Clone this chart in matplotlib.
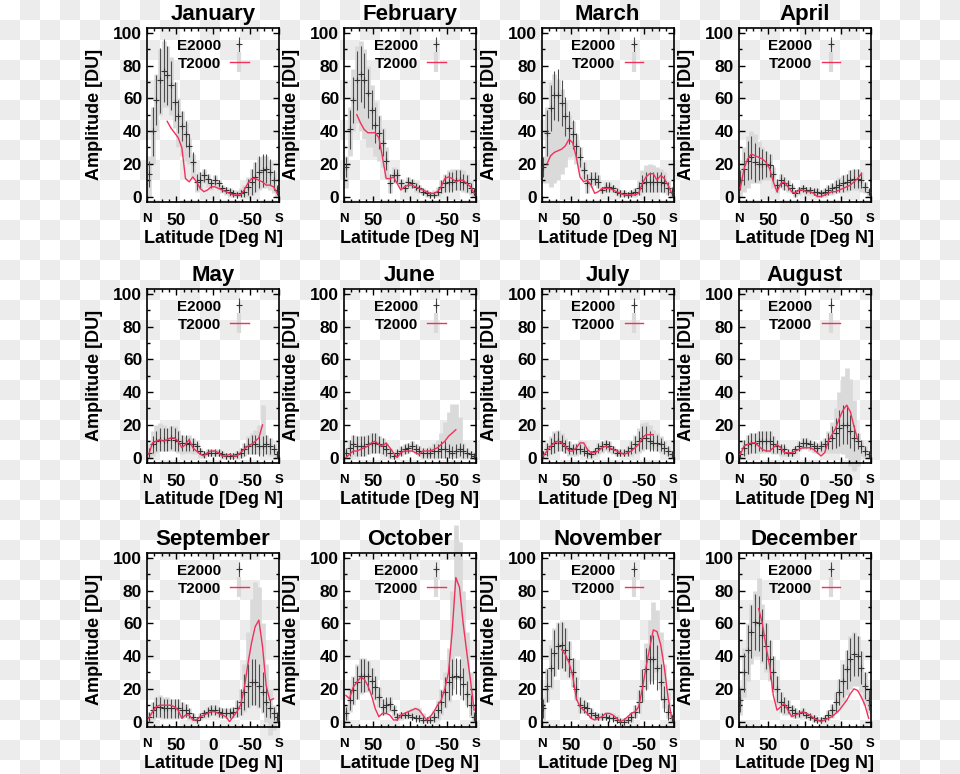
import numpy as np
import matplotlib
matplotlib.use("Agg")
import matplotlib.pyplot as plt
from matplotlib.ticker import MultipleLocator
from matplotlib.lines import Line2D

nan = np.nan

# latitude bins (deg N), north to south
lats = [87.5, 82.5, 77.5, 72.5, 67.5, 62.5, 57.5, 52.5, 47.5, 42.5, 37.5, 32.5,
        27.5, 22.5, 17.5, 12.5, 7.5, 2.5, -2.5, -7.5, -12.5, -17.5, -22.5, -27.5,
        -32.5, -37.5, -42.5, -47.5, -52.5, -57.5, -62.5, -67.5, -72.5, -77.5, -82.5, -87.5]

months = ["January", "February", "March", "April", "May", "June",
          "July", "August", "September", "October", "November", "December"]

# E2000 amplitude and error, T2000 line, T2000 grey spread (lo/hi)
jan_e = [14, 40, 59, 71, 77, 74, 68, 58, 49, 43, 38, 31, 21, 9, 10, 13, 11, 8, 10, 8, 5, 4, 3, 2, 1, 2, 3, 6, 9, 12, 15, 16, 17, 15, 10, 4]
jan_err = [8, 15, 15, 20, 19, 18, 15, 12, 10, 9, 8, 7, 6, 5, 5, 4, 3, 3, 3, 2, 2, 2, 2, 2, 2, 2, 3, 5, 8, 9, 10, 10, 9, 8, 6, 3]
jan_t = [nan, nan, nan, nan, nan, 46, 42, 39, 36, 30, 11, 9, 12, 9, 5, 3, 4, 6, 6, 5, 4, 3, 2, 1, 1, 1, 4, 8, 11, 11, 10, 9, 7, 7, 6, 2]
jan_hi = [25, 55, 75, 90, 95, 92, 85, 70, 60, 52, 45, 36, 26, 14, 15, 17, 14, 11, 13, 10, 7, 6, 5, 4, 4, 5, 7, 12, 17, 21, 24, 25, 25, 22, 15, 6]
jan_lo = [0, 20, 40, 50, 55, 55, 50, 42, 30, 25, 22, 20, 12, 3, 4, 8, 6, 4, 5, 4, 2, 1, 0, 0, 0, 0, 0, 0, 1, 3, 4, 5, 5, 4, 2, 0]

feb_e = [18, 41, 59, 71, 75, 71, 63, 53, 44, 39, 33, 22, 8, 13, 13, 8, 5, 9, 8, 6, 5, 3, 2, 1, 1, 3, 6, 8, 9, 9, 10, 10, 9, 8, 5, 3]
feb_err = [6, 12, 14, 18, 17, 17, 15, 12, 11, 10, 8, 6, 6, 4, 4, 3, 2, 3, 3, 2, 2, 2, 1, 2, 2, 2, 4, 5, 6, 6, 6, 6, 5, 5, 3, 2]
feb_t = [nan, nan, nan, 50, 45, 41, 39, 39, 39, 36, 24, 11, 11, 12, 8, 4, 6, 7, 7, 6, 5, 4, 3, 2, 2, 3, 6, 11, 12, 11, 9, 10, 10, 8, 6, 2]
feb_hi = [25, 55, 78, 92, 95, 90, 80, 68, 58, 50, 42, 30, 14, 18, 17, 11, 8, 12, 11, 9, 7, 5, 4, 3, 4, 6, 10, 14, 16, 17, 17, 17, 16, 14, 10, 5]
feb_lo = [5, 25, 40, 45, 40, 35, 30, 30, 25, 22, 18, 12, 2, 8, 8, 5, 3, 5, 5, 3, 2, 1, 0, 0, 0, 0, 2, 3, 4, 4, 4, 4, 3, 2, 1, 0]

mar_e = [18, 39, 54, 62, 62, 57, 49, 42, 38, 31, 24, 16, 8, 11, 11, 9, 4, 6, 6, 5, 3, 2, 2, 1, 2, 3, 5, 8, 9, 9, 9, 9, 9, 8, 5, 3]
mar_err = [6, 14, 14, 15, 16, 14, 12, 10, 9, 8, 6, 5, 6, 4, 4, 4, 2, 3, 3, 2, 2, 2, 2, 2, 2, 2, 4, 5, 6, 6, 6, 6, 6, 5, 4, 3]
mar_t = [nan, 20, 25, 27, 28, 29, 31, 35, 33, 24, 12, 9, 10, 7, 2, 3, 5, 5, 5, 4, 3, 2, 1, 1, 1, 1, 2, 8, 12, 14, 14, 10, 13, 11, 7, 2]
mar_hi = [25, 55, 70, 75, 72, 66, 58, 50, 46, 38, 30, 21, 14, 15, 15, 13, 6, 9, 9, 7, 5, 4, 4, 3, 4, 5, 10, 16, 19, 20, 19, 18, 17, 15, 10, 6]
mar_lo = [8, 8, 6, 8, 10, 14, 18, 24, 25, 20, 15, 10, 2, 6, 7, 5, 2, 3, 3, 3, 1, 0, 0, 0, 0, 0, 1, 2, 3, 3, 3, 3, 3, 2, 1, 0]

apr_e = [10, 17, 22, 24, 21, 20, 20, 20, 19, 14, 7, 10, 8, 7, 5, 2, 4, 5, 4, 4, 3, 3, 2, 3, 4, 5, 6, 7, 8, 9, 10, 11, 11, 10, 6, 3]
apr_err = [6, 10, 12, 13, 12, 10, 9, 8, 7, 5, 4, 4, 4, 3, 3, 2, 2, 2, 2, 2, 2, 2, 2, 2, 3, 3, 4, 4, 5, 5, 6, 6, 6, 5, 3, 2]
apr_t = [5, 17, 23, 26, 25, 24, 23, 21, 17, 9, 3, 8, 9, 6, 3, 2, 4, 4, 3, 3, 2, 0, 0, 1, 2, 3, 3, 4, 5, 6, 7, 9, 11, 14, nan, nan]
apr_hi = [18, 30, 37, 40, 38, 34, 30, 28, 26, 18, 11, 14, 12, 10, 7, 4, 6, 7, 6, 6, 5, 5, 4, 5, 7, 8, 10, 12, 13, 14, 16, 17, 17, 15, 9, 5]
apr_lo = [0, 3, 5, 8, 8, 8, 10, 10, 10, 5, 2, 5, 4, 3, 2, 0, 1, 2, 1, 1, 1, 0, 0, 0, 1, 1, 2, 2, 3, 3, 4, 4, 4, 3, 2, 0]

may_e = [3, 8, 10, 11, 11, 11, 12, 11, 10, 9, 9, 8, 8, 7, 4, 2, 3, 3, 3, 3, 2, 1, 1, 1, 2, 3, 5, 7, 8, 8, 7, 7, 8, 7, 5, 2]
may_err = [3, 5, 6, 7, 7, 7, 7, 7, 6, 5, 5, 4, 4, 3, 2, 2, 2, 2, 2, 2, 2, 2, 2, 2, 2, 3, 4, 5, 6, 6, 6, 6, 6, 5, 3, 2]
may_t = [2, 9, 10, 11, 10, 11, 12, 12, 10, 6, 8, 11, 6, 4, 2, 1, 3, 4, 4, 3, 1, 1, 2, 1, 1, 3, 5, 7, 8, 10, 12, 20, nan, nan, nan, nan]
may_hi = [8, 16, 20, 21, 20, 18, 19, 19, 17, 14, 13, 14, 12, 9, 6, 4, 5, 5, 5, 5, 4, 3, 3, 3, 4, 6, 9, 13, 15, 17, 20, 32, 14, 12, 8, 4]
may_lo = [0, 1, 3, 4, 4, 4, 4, 4, 3, 2, 3, 3, 2, 2, 0, 0, 1, 1, 1, 1, 0, 0, 0, 0, 0, 0, 1, 2, 2, 2, 2, 5, 2, 1, 1, 0]

jun_e = [3, 6, 8, 7, 7, 7, 8, 9, 9, 8, 7, 5, 3, 1, 3, 4, 5, 6, 7, 5, 4, 3, 3, 3, 4, 4, 5, 5, 4, 3, 4, 5, 4, 3, 2, 1]
jun_err = [3, 5, 6, 6, 6, 6, 6, 6, 6, 5, 5, 4, 3, 2, 2, 3, 3, 3, 3, 3, 3, 3, 3, 3, 4, 4, 5, 5, 4, 4, 4, 4, 4, 3, 2, 1]
jun_t = [0, 2, 4, 4, 5, 6, 7, 9, 10, 8, 7, 9, 6, 3, 0, 3, 4, 4, 4, 3, 2, 4, 4, 4, 5, 6, 8, 10, 13, 15, 17, nan, nan, nan, nan, nan]
jun_hi = [6, 11, 14, 13, 13, 13, 14, 15, 15, 13, 12, 9, 6, 3, 5, 7, 8, 9, 10, 8, 7, 6, 6, 7, 9, 11, 15, 22, 28, 33, 33, 25, 9, 6, 4, 2]
jun_lo = [0, 0, 1, 1, 1, 1, 2, 3, 3, 3, 2, 1, 0, 0, 1, 1, 2, 3, 4, 2, 1, 0, 0, 0, 0, 0, 0, 0, 0, 0, 0, 0, 0, 0, 0, 0]

jul_e = [2, 5, 7, 9, 10, 9, 7, 6, 5, 5, 5, 4, 3, 2, 4, 6, 7, 8, 7, 5, 3, 3, 3, 4, 6, 8, 10, 12, 12, 10, 9, 9, 8, 6, 4, 2]
jul_err = [2, 4, 5, 6, 6, 5, 4, 4, 3, 3, 3, 3, 3, 2, 2, 3, 3, 3, 3, 2, 2, 2, 2, 3, 4, 5, 6, 7, 7, 6, 5, 5, 4, 4, 3, 2]
jul_t = [1, 4, 7, 9, 10, 9, 7, 4, 4, 6, 9, 9, 5, 3, 3, 4, 6, 7, 6, 5, 4, 3, 2, 3, 4, 6, 8, 12, 14, 14, 14, nan, nan, nan, nan, nan]
jul_hi = [4, 9, 13, 16, 17, 15, 12, 10, 8, 9, 11, 10, 7, 4, 6, 9, 10, 11, 10, 7, 5, 5, 5, 7, 10, 14, 18, 21, 22, 20, 17, 15, 13, 10, 7, 4]
jul_lo = [0, 1, 2, 3, 4, 4, 3, 1, 1, 1, 2, 2, 1, 0, 1, 2, 3, 4, 3, 2, 1, 1, 1, 1, 1, 2, 3, 4, 5, 5, 5, 4, 3, 2, 1, 0]

aug_e = [2, 6, 8, 9, 9, 10, 10, 10, 10, 8, 7, 5, 5, 3, 3, 5, 7, 9, 9, 8, 7, 6, 7, 8, 10, 12, 15, 18, 20, 20, 16, 12, 10, 7, 4, 2]
aug_err = [2, 5, 6, 6, 6, 6, 6, 6, 6, 5, 4, 3, 3, 2, 2, 2, 3, 3, 3, 3, 3, 3, 3, 4, 5, 7, 9, 11, 12, 12, 10, 8, 5, 4, 3, 2]
aug_t = [2, 7, 8, 9, 9, 7, 5, 4, 4, 6, 8, 6, 3, 3, 3, 4, 5, 6, 6, 6, 5, 3, 1, 3, 10, 14, 18, 24, 29, 32, 28, 19, 11, nan, nan, nan]
aug_hi = [4, 11, 14, 15, 15, 16, 16, 16, 16, 13, 11, 8, 7, 5, 5, 7, 10, 12, 12, 11, 10, 9, 10, 12, 16, 22, 30, 40, 50, 55, 48, 35, 15, 11, 7, 4]
aug_lo = [0, 1, 2, 3, 3, 3, 3, 3, 3, 2, 2, 1, 1, 1, 1, 2, 4, 5, 5, 4, 3, 3, 3, 3, 3, 3, 3, 3, 2, 0, -5, -8, -5, 1, 0, 0]

sep_e = [3, 7, 9, 9, 8, 8, 8, 8, 8, 7, 7, 5, 3, 1, 3, 5, 6, 7, 7, 6, 5, 5, 5, 6, 8, 12, 18, 22, 24, 24, 22, 18, 12, 8, 5, 3]
sep_err = [3, 5, 6, 6, 6, 6, 6, 6, 6, 5, 4, 3, 2, 2, 2, 2, 3, 3, 3, 3, 3, 3, 3, 3, 5, 8, 11, 13, 14, 14, 13, 12, 9, 6, 4, 3]
sep_t = [2, 6, 9, 10, 10, 10, 10, 9, 7, 2, 4, 4, 1, 1, 3, 4, 5, 6, 6, 5, 4, 3, 0, 3, 6, 10, 20, 35, 48, 58, 62, 46, 22, 13, 14, nan]
sep_hi = [6, 12, 15, 16, 15, 15, 14, 14, 14, 12, 11, 8, 5, 3, 5, 7, 9, 10, 10, 9, 8, 8, 8, 9, 13, 20, 35, 55, 75, 85, 82, 60, 35, 20, 10, 5]
sep_lo = [0, 1, 2, 2, 2, 2, 2, 2, 2, 2, 2, 1, 0, 0, 1, 2, 3, 4, 4, 3, 2, 2, 2, 2, 3, 4, 6, 8, 10, 10, 8, 5, 0, -8, -5, 0]

oct_e = [5, 13, 19, 24, 28, 28, 28, 25, 21, 15, 9, 10, 11, 7, 3, 4, 4, 4, 3, 2, 2, 1, 1, 1, 3, 7, 12, 18, 24, 27, 28, 27, 23, 17, 10, 3]
oct_err = [4, 6, 8, 10, 10, 10, 9, 8, 7, 6, 5, 5, 4, 3, 2, 2, 2, 2, 2, 2, 2, 2, 2, 2, 3, 5, 7, 9, 11, 11, 11, 11, 10, 8, 6, 3]
oct_t = [16, 14, 21, 24, 27, 26, 22, 16, 8, 3, 5, 5, 4, 1, 1, 4, 5, 6, 7, 8, 7, 4, 1, 3, 6, 10, 13, 20, 30, 55, 88, 82, 60, 42, 25, 7]
oct_hi = [10, 20, 28, 35, 39, 39, 37, 33, 28, 21, 14, 14, 15, 10, 5, 6, 6, 7, 8, 9, 8, 5, 3, 4, 7, 13, 20, 30, 45, 80, 120, 110, 80, 55, 30, 8]
oct_lo = [0, 6, 10, 14, 17, 18, 18, 16, 13, 9, 4, 5, 6, 3, 1, 1, 2, 2, 2, 2, 1, 0, 0, 0, 0, 1, 4, 8, 12, 20, 40, 40, 25, 10, 3, 0]

nov_e = [8, 22, 33, 42, 46, 47, 44, 38, 30, 20, 10, 9, 8, 5, 4, 3, 3, 3, 2, 2, 1, 0, 0, 1, 3, 6, 12, 22, 32, 38, 38, 33, 24, 14, 6, 2]
nov_err = [6, 10, 12, 14, 14, 14, 13, 11, 9, 7, 5, 4, 4, 3, 2, 2, 2, 2, 2, 2, 2, 2, 2, 2, 3, 4, 7, 10, 13, 15, 15, 14, 11, 8, 5, 2]
nov_t = [nan, nan, nan, nan, nan, 44, 41, 36, 28, 14, 9, 7, 5, 2, 1, 2, 3, 5, 5, 4, 2, 0, 1, 3, 5, 6, 9, 20, 33, 45, 56, 55, 47, 33, 15, 2]
nov_hi = [15, 33, 47, 57, 61, 61, 57, 49, 39, 27, 15, 13, 12, 8, 6, 5, 5, 6, 6, 5, 4, 2, 2, 3, 6, 10, 19, 32, 48, 62, 73, 68, 55, 35, 18, 5]
nov_lo = [1, 12, 20, 28, 32, 33, 31, 27, 21, 13, 5, 5, 4, 2, 1, 1, 1, 2, 2, 1, 0, 0, 0, 0, 0, 2, 5, 12, 20, 25, 30, 30, 20, 8, 2, 0]

dec_e = [13, 30, 44, 55, 61, 60, 53, 46, 38, 30, 20, 12, 10, 9, 7, 5, 5, 6, 4, 3, 2, 1, 1, 2, 4, 7, 12, 18, 25, 32, 38, 41, 40, 33, 22, 13]
dec_err = [7, 12, 15, 16, 17, 17, 16, 14, 12, 10, 8, 6, 5, 4, 3, 3, 2, 2, 2, 2, 2, 2, 2, 2, 3, 4, 6, 8, 10, 12, 13, 13, 12, 10, 8, 6]
dec_t = [nan, nan, nan, nan, nan, 69, 60, 46, 34, 16, 7, 9, 11, 7, 3, 4, 5, 6, 5, 4, 2, 1, 0, 1, 2, 3, 5, 7, 10, 13, 17, 20, 19, 15, 10, 2]
dec_hi = [22, 45, 60, 72, 80, 88, 72, 60, 50, 40, 28, 18, 15, 13, 10, 8, 7, 8, 6, 5, 4, 3, 3, 4, 7, 11, 18, 26, 35, 44, 52, 55, 52, 43, 30, 20]
dec_lo = [4, 15, 25, 35, 40, 40, 36, 30, 25, 18, 10, 5, 4, 4, 3, 2, 2, 3, 2, 1, 0, 0, 0, 0, 1, 2, 5, 8, 12, 16, 20, 22, 22, 18, 10, 5]

e_vals = [jan_e, feb_e, mar_e, apr_e, may_e, jun_e, jul_e, aug_e, sep_e, oct_e, nov_e, dec_e]
e_errs = [jan_err, feb_err, mar_err, apr_err, may_err, jun_err, jul_err, aug_err, sep_err, oct_err, nov_err, dec_err]
t_vals = [jan_t, feb_t, mar_t, apr_t, may_t, jun_t, jul_t, aug_t, sep_t, oct_t, nov_t, dec_t]
g_lo = [jan_lo, feb_lo, mar_lo, apr_lo, may_lo, jun_lo, jul_lo, aug_lo, sep_lo, oct_lo, nov_lo, dec_lo]
g_hi = [jan_hi, feb_hi, mar_hi, apr_hi, may_hi, jun_hi, jul_hi, aug_hi, sep_hi, oct_hi, nov_hi, dec_hi]

plt.rcParams['font.family'] = ['Liberation Sans', 'DejaVu Sans']
plt.rcParams['font.weight'] = 'bold'

W, H = 960, 774
fig = plt.figure(figsize=(W / 100, H / 100), dpi=100)

# transparent-looking checkerboard behind everything
bg = fig.add_axes([0, 0, 1, 1], zorder=-10)
rr, cc = np.indices((39, 48))
checks = ((rr + cc) % 2).astype(float)
bg.imshow(checks, cmap='gray_r', vmin=0, vmax=13, extent=[0, 960, 780, 0],
          interpolation='nearest', aspect='auto')
bg.set_xlim(0, W)
bg.set_ylim(H, 0)
bg.axis('off')

red = '#f2305c'
grey = '#dadada'
col_x = [147, 344, 541.5, 738.5]
row_top = [28, 289, 553]
ax_w, ax_h = 132, 173.5

for i, name in enumerate(months):
    r, c = divmod(i, 4)
    left = col_x[c] / W
    bottom = 1 - (row_top[r] + ax_h) / H
    ax = fig.add_axes([left, bottom, ax_w / W, ax_h / H])
    ax.set_facecolor('none')

    ax.vlines(lats, g_lo[i], g_hi[i], color=grey, lw=3.4, clip_on=False, zorder=1)
    eb = ax.errorbar(lats, e_vals[i], yerr=e_errs[i], fmt='+', color='#333333',
                     ecolor='#4d4d4d', elinewidth=0.8, markersize=4, mew=0.8,
                     capsize=0, zorder=3)
    ax.plot(lats, t_vals[i], color=red, lw=1.0, zorder=4)

    ax.set_xlim(90, -90)
    ax.set_ylim(-3, 103)
    ax.set_xticks([90, 50, 0, -50, -90])
    ax.set_xticklabels(['N', '50', '0', '-50', 'S'])
    ax.set_yticks([0, 20, 40, 60, 80, 100])
    ax.xaxis.set_minor_locator(MultipleLocator(10))
    ax.yaxis.set_minor_locator(MultipleLocator(10))
    ax.tick_params(which='both', direction='in', top=True, right=True, width=1)
    ax.tick_params(which='major', length=4, labelsize=12.5)
    ax.tick_params(which='minor', length=2)
    ax.tick_params(axis='x', pad=8)
    for lab in ax.get_xticklabels():
        if lab.get_text() in ('N', 'S'):
            lab.set_fontsize(9.5)
    for s in ax.spines.values():
        s.set_linewidth(1.2)

    ax.set_title(name, fontsize=16, fontweight='bold', pad=6)
    ax.set_xlabel('Latitude [Deg N]', fontsize=13, fontweight='bold', labelpad=2)
    ax.set_ylabel('Amplitude [DU]', fontsize=13, fontweight='bold', labelpad=7)

    t_handle = (Line2D([], [], color=grey, marker='|', markersize=14, mew=3, linestyle='none'),
                Line2D([], [], color=red, lw=1.0))
    ax.legend([eb, t_handle], ['E2000', 'T2000'], loc='upper right',
              bbox_to_anchor=(0.85, 1.0), frameon=False, markerfirst=False,
              fontsize=11, handlelength=1.2, handletextpad=0.6, labelspacing=0.25,
              borderaxespad=0.3)

fig.savefig('out.png', dpi=100)
